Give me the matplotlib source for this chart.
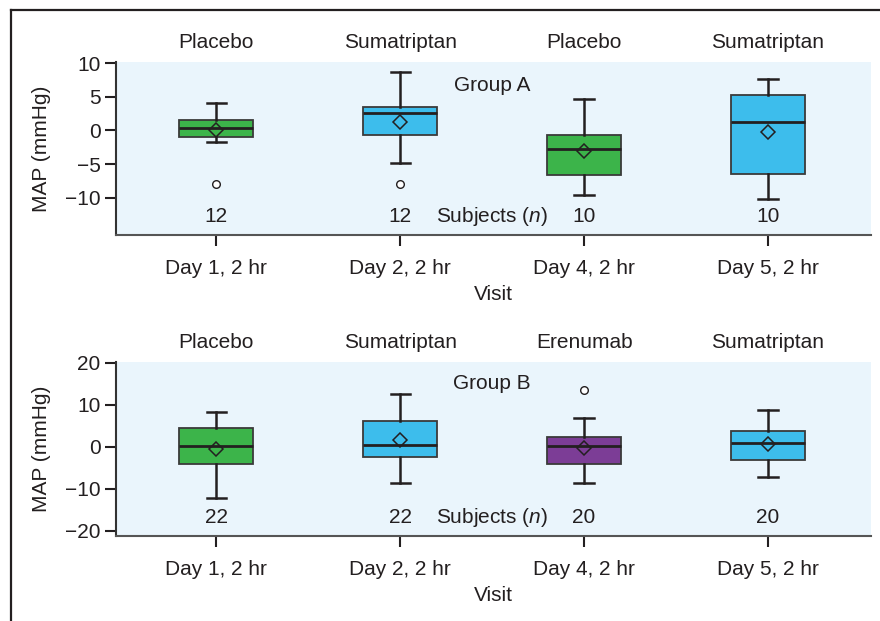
import matplotlib
matplotlib.use("Agg")
import matplotlib.pyplot as plt
from matplotlib.lines import Line2D
import matplotlib.transforms as mtransforms

plt.rcParams['font.family'] = ['Liberation Sans', 'DejaVu Sans']
plt.rcParams['mathtext.fontset'] = 'custom'
plt.rcParams['mathtext.rm'] = 'Liberation Sans'
plt.rcParams['mathtext.it'] = 'Liberation Sans:italic'

visits = ["Day 1, 2 hr", "Day 2, 2 hr", "Day 4, 2 hr", "Day 5, 2 hr"]

# Group A
a_treat = ["Placebo", "Sumatriptan", "Placebo", "Sumatriptan"]
a_whishi = [4.1, 8.6, 4.7, 7.7]
a_q3 = [1.5, 3.55, -0.6, 5.3]
a_med = [0.35, 2.6, -2.8, 1.2]
a_q1 = [-0.9, -0.7, -6.6, -6.4]
a_whislo = [-1.7, -4.8, -9.5, -10.1]
a_mean = [0.0, 1.3, -3.1, -0.2]
a_fliers = [[-7.9], [-8.0], [], []]
a_n = [12, 12, 10, 10]

# Group B
b_treat = ["Placebo", "Sumatriptan", "Erenumab", "Sumatriptan"]
b_whishi = [8.4, 12.7, 6.9, 8.8]
b_q3 = [4.6, 6.1, 2.4, 3.7]
b_med = [0.24, 0.5, 0.1, 1.0]
b_q1 = [-4.0, -2.5, -4.0, -3.0]
b_whislo = [-12.1, -8.5, -8.5, -7.1]
b_mean = [-0.5, 1.7, -0.3, 0.8]
b_fliers = [[], [], [13.5], []]
b_n = [22, 22, 20, 20]

colors = {"Placebo": "#3cb44a", "Sumatriptan": "#3dbdec", "Erenumab": "#7c3d96"}
bg = "#eaf5fc"
dark = "#231f20"

W, H = 880, 621
fig = plt.figure(figsize=(8.8, 6.21), dpi=100)

def px_axes(l, t, r, b):
    return fig.add_axes([l / W, 1 - b / H, (r - l) / W, (b - t) / H])

def panel(ax, treat, whishi, q3, med, q1, whislo, mean, fliers, n, ylim, yticks,
          group, group_y, n_y, label_fy):
    stats = []
    for i in range(len(visits)):
        stats.append(dict(med=med[i], q1=q1[i], q3=q3[i], whislo=whislo[i],
                          whishi=whishi[i], mean=mean[i], fliers=fliers[i]))
    pos = list(range(len(visits)))
    bp = ax.bxp(stats, positions=pos, widths=0.4, patch_artist=True, showmeans=True,
                capwidths=0.105,
                boxprops=dict(edgecolor="#3a3a3a", linewidth=1.3),
                medianprops=dict(color=dark, linewidth=2.0),
                whiskerprops=dict(color=dark, linewidth=1.8),
                capprops=dict(color=dark, linewidth=1.8),
                meanprops=dict(marker="D", markerfacecolor="none", markeredgecolor=dark,
                               markersize=7.5, markeredgewidth=1.1),
                flierprops=dict(marker="o", markerfacecolor="white", markeredgecolor=dark,
                                markersize=5.5, markeredgewidth=1.0))
    for patch, t in zip(bp["boxes"], treat):
        patch.set_facecolor(colors[t])
    ax.set_facecolor(bg)
    ax.set_xlim(-0.545, 3.56)
    ax.set_ylim(*ylim)
    ax.set_yticks(yticks)
    ax.set_yticklabels([str(v).replace("-", "\u2212") for v in yticks])
    ax.set_xticks(pos)
    ax.set_xticklabels(visits)
    for s in ["top", "right"]:
        ax.spines[s].set_visible(False)
    ax.spines["left"].set_color("#333333")
    ax.spines["left"].set_linewidth(1.5)
    ax.spines["bottom"].set_color("#555555")
    ax.spines["bottom"].set_linewidth(1.5)
    ax.tick_params(axis="both", length=8, width=1.5, color=dark, labelsize=15,
                   labelcolor=dark)
    ax.tick_params(axis="x", pad=9)
    ax.tick_params(axis="y", pad=3)
    ax.set_xlabel("Visit", fontsize=15, color=dark, labelpad=5)
    ax.set_ylabel("MAP (mmHg)", fontsize=15, color=dark, labelpad=10)
    trans = mtransforms.blended_transform_factory(ax.transData, fig.transFigure)
    for i, t in enumerate(treat):
        ax.text(i, label_fy, t, transform=trans, ha="center", va="center",
                fontsize=15, color=dark)
        ax.text(i, n_y, str(n[i]), ha="center", va="center", fontsize=15, color=dark)
    ax.text(1.5, group_y, group, ha="center", va="center", fontsize=15, color=dark)
    ax.text(1.5, n_y, "Subjects ($\\it{n}$)", ha="center", va="center", fontsize=15,
            color=dark)

ax1 = px_axes(116, 62, 871, 235)
panel(ax1, a_treat, a_whishi, a_q3, a_med, a_q1, a_whislo, a_mean, a_fliers, a_n,
      (-15.5, 10.15), [10, 5, 0, -5, -10], "Group A", 6.6, -12.7, 1 - 42 / H)

ax2 = px_axes(116, 362, 871, 536)
panel(ax2, b_treat, b_whishi, b_q3, b_med, b_q1, b_whislo, b_mean, b_fliers, b_n,
      (-21.2, 20.2), [20, 10, 0, -10, -20], "Group B", 15.0, -16.7, 1 - 342 / H)

# outer frame (top and left)
fig.add_artist(Line2D([11 / W, 1.0], [1 - 10 / H, 1 - 10 / H], transform=fig.transFigure,
                      color=dark, linewidth=1.6))
fig.add_artist(Line2D([11 / W, 11 / W], [0, 1 - 10 / H], transform=fig.transFigure,
                      color=dark, linewidth=1.6))

fig.savefig("out.png", dpi=100, facecolor="white")
